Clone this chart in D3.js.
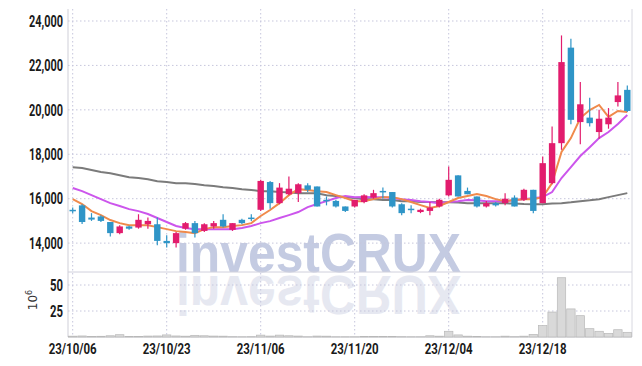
<!DOCTYPE html>
<html>
<head>
<meta charset="utf-8">
<script src="https://cdn.jsdelivr.net/npm/d3@7"></script>
<style>
  body { margin: 0; background: #fff; }
  #chart { width: 642px; height: 366px; }
  text { font-family: "Liberation Sans Narrow", "Roboto", "DejaVu Sans", sans-serif; }
</style>
</head>
<body>
<div id="chart"></div>
<script>
// trading days shown on the chart
const dates = [
  "23/10/06","23/10/10","23/10/11","23/10/12","23/10/13","23/10/16","23/10/17","23/10/18","23/10/19","23/10/20",
  "23/10/23","23/10/24","23/10/25","23/10/26","23/10/27","23/10/30","23/10/31","23/11/01","23/11/02","23/11/03",
  "23/11/06","23/11/07","23/11/08","23/11/09","23/11/10","23/11/13","23/11/14","23/11/15","23/11/16","23/11/17",
  "23/11/20","23/11/21","23/11/22","23/11/23","23/11/24","23/11/27","23/11/28","23/11/29","23/11/30","23/12/01",
  "23/12/04","23/12/05","23/12/06","23/12/07","23/12/08","23/12/11","23/12/12","23/12/13","23/12/14","23/12/15",
  "23/12/18","23/12/19","23/12/20","23/12/21","23/12/22","23/12/26","23/12/27","23/12/28","24/01/02","24/01/03"
];

const open = [
  15500,15700,15150,15200,14950,14450,14750,14700,14850,14850,
  14100,14000,14650,14900,14550,14750,15050,14600,15050,15150,
  15500,16750,15800,16200,16250,16600,16550,15950,15900,15650,
  15650,15850,16050,16350,16300,15750,15550,15400,15450,15650,
  16150,17050,16350,16100,15650,15800,15800,16050,15950,16400,
  15800,16700,18500,22800,19450,19650,19000,19350,20350,20900
];
const high = [
  15600,15750,15350,15250,14950,14800,14780,15300,15150,15150,
  14350,14500,14950,15000,14900,15000,15300,14900,15100,15300,
  16850,16800,16700,17000,16700,16700,16550,16100,15950,15650,
  15950,16200,16400,16500,16300,15800,15700,15550,15850,16000,
  17450,17050,16500,16100,15900,15850,16250,16150,16450,16400,
  17900,19250,23350,23200,21250,20550,20000,20080,21250,21100
];
const low = [
  15350,14860,15000,14950,14300,14400,14600,14650,14650,13900,
  13800,13800,14600,14250,14500,14650,14700,14550,14850,15000,
  15450,15550,15750,16150,15850,16300,15650,15700,15600,15400,
  15600,15800,16000,16000,15600,15250,15350,15350,15250,15600,
  16100,16100,16200,15600,15600,15650,15700,15650,15900,15350,
  15800,16650,18200,19350,18450,19250,18700,19150,20150,19900
];
const close = [
  15450,14950,15060,15000,14450,14750,14650,15050,15000,14100,
  14000,14450,14900,14450,14850,14900,14750,14900,14900,15100,
  16800,15800,16500,16450,16650,16400,15650,15900,15650,15450,
  15950,16150,16250,16300,15650,15350,15500,15500,15600,15950,
  16850,16100,16200,15650,15800,15700,16000,15650,16400,15450,
  17600,18500,22150,19550,20250,19400,19600,19650,20650,19950
];

// moving averages
const maShort = [
  15980,15760,15440,15260,15040,14900,14810,14810,14800,14720,
  14630,14540,14500,14450,14630,14720,14720,14770,14810,14900,
  15220,15490,15800,16160,16430,16390,16340,16300,16160,16030,
  15890,15890,15980,16070,16070,15980,15850,15710,15580,15670,
  15850,16030,16120,16210,16120,15980,15890,15940,15980,15980,
  16070,16700,18100,18730,19630,19990,20220,19680,19950,19900
];
const maMid = [
  16480,16340,16160,15980,15800,15670,15530,15440,15310,15130,
  14950,14770,14680,14630,14630,14620,14620,14630,14680,14770,
  14900,14990,15130,15260,15400,15620,15760,15890,16030,16120,
  16070,16080,16070,16070,16030,15980,15940,15890,15850,15800,
  15850,15890,15940,15930,15890,15890,15880,15940,15980,16030,
  16070,16300,16930,17420,17920,18320,18730,19000,19360,19770
];
const maLong = [
  17420,17380,17290,17200,17150,17060,16970,16930,16880,16790,
  16750,16700,16690,16660,16610,16570,16520,16480,16430,16390,
  16340,16330,16300,16290,16250,16240,16240,16160,16120,16070,
  16030,15980,15980,15940,15940,15890,15890,15850,15850,15840,
  15840,15830,15800,15800,15790,15790,15790,15780,15760,15750,
  15750,15780,15800,15840,15890,15930,15980,16070,16160,16250
];

// volume, millions of shares
const volume = [
  0.8,1.0,0.6,0.7,1.2,2.2,0.6,0.4,0.9,1.0,
  2.0,1.0,0.8,1.6,1.2,0.9,0.8,0.3,0.2,0.3,
  1.8,0.9,1.8,1.2,0.9,0.2,0.9,0.8,0.2,0.2,
  0.2,0.5,0.6,0.5,0.5,0.3,0.2,0.2,1.2,0.8,
  5.5,2.0,0.8,0.6,0.2,0.2,0.8,0.3,0.8,2.5,
  11,24,57,27,20.5,8,5.5,3.5,7,4.5
];

const priceTicks = [14000, 16000, 18000, 20000, 22000, 24000];
const volTicks = [25, 50];
const dateTicks = ["23/10/06","23/10/23","23/11/06","23/11/20","23/12/04","23/12/18"];

const W = 642, H = 366;
const plotLeft = 68, plotRight = 632, plotTop = 9, split = 272, plotBottom = 337;

const svg = d3.select("#chart").append("svg")
  .attr("width", W).attr("height", H)
  .attr("viewBox", `0 0 ${W} ${H}`);

const x = d3.scaleBand().domain(dates).range([plotLeft, plotRight]).padding(0);
const cx = d => x(d) + x.bandwidth() / 2;
const y = d3.scaleLinear().domain([12700, 24540]).range([split, plotTop]);
const yv = d3.scaleLinear().domain([0, 62.5]).range([plotBottom, split]);

const gridColor = "#c6c6dc";

// watermark, with its faded mirror image
const wm = svg.append("g");
wm.append("text")
  .attr("x", 176).attr("y", 272)
  .attr("textLength", 285).attr("lengthAdjust", "spacingAndGlyphs")
  .attr("fill", "#c4cbe2")
  .style("font-family", "Liberation Sans, Arial, sans-serif")
  .style("font-weight", "bold").style("font-size", "55px")
  .text("investCRUX");
wm.append("text")
  .attr("transform", "translate(0,548) scale(1,-1)")
  .attr("x", 176).attr("y", 272)
  .attr("textLength", 285).attr("lengthAdjust", "spacingAndGlyphs")
  .attr("fill", "#e6e8f1")
  .style("font-family", "Liberation Sans, Arial, sans-serif")
  .style("font-weight", "bold").style("font-size", "55px")
  .text("investCRUX");

// grid
svg.append("g").selectAll("line")
  .data(priceTicks).join("line")
  .attr("x1", plotLeft).attr("x2", plotRight)
  .attr("y1", d => y(d)).attr("y2", d => y(d))
  .attr("stroke", gridColor).attr("stroke-dasharray", "1.5,2.5");
svg.append("g").selectAll("line")
  .data(volTicks).join("line")
  .attr("x1", plotLeft).attr("x2", plotRight)
  .attr("y1", d => yv(d)).attr("y2", d => yv(d))
  .attr("stroke", gridColor).attr("stroke-dasharray", "1.5,2.5");
svg.append("g").selectAll("line")
  .data(dateTicks).join("line")
  .attr("x1", d => cx(d)).attr("x2", d => cx(d))
  .attr("y1", plotTop).attr("y2", plotBottom)
  .attr("stroke", gridColor).attr("stroke-dasharray", "1.5,2.5");

// frame
svg.append("line").attr("x1", plotLeft).attr("x2", plotLeft).attr("y1", plotTop).attr("y2", plotBottom)
  .attr("stroke", "#cfcfd8");
svg.append("line").attr("x1", plotRight).attr("x2", plotRight).attr("y1", plotTop).attr("y2", plotBottom)
  .attr("stroke", "#d8d8e0");
svg.append("line").attr("x1", plotLeft).attr("x2", plotRight).attr("y1", split).attr("y2", split)
  .attr("stroke", "#d0d0dc");
svg.append("line").attr("x1", plotLeft).attr("x2", plotRight).attr("y1", plotBottom).attr("y2", plotBottom)
  .attr("stroke", "#c8c8d0");

// volume bars
svg.append("g").selectAll("rect")
  .data(dates).join("rect")
  .attr("x", d => x(d) + 0.5)
  .attr("width", x.bandwidth() - 1)
  .attr("y", (d, i) => yv(volume[i]))
  .attr("height", (d, i) => yv(0) - yv(volume[i]))
  .attr("fill", "#d9d9d9").attr("stroke", "#b8b8b8").attr("stroke-width", 0.7);

// moving averages
const line = arr => d3.line().x((d, i) => cx(dates[i])).y(d => y(d))(arr);
svg.append("path").attr("d", line(maLong)).attr("fill", "none")
  .attr("stroke", "#7b7b7b").attr("stroke-width", 2);
svg.append("path").attr("d", line(maMid)).attr("fill", "none")
  .attr("stroke", "#cc55ec").attr("stroke-width", 2);
svg.append("path").attr("d", line(maShort)).attr("fill", "none")
  .attr("stroke", "#f08a4b").attr("stroke-width", 2);

// candles
const upColor = "#e21c6d", downColor = "#2f95c7";
const candle = svg.append("g").selectAll("g")
  .data(dates).join("g")
  .attr("stroke", (d, i) => close[i] >= open[i] ? upColor : downColor)
  .attr("fill", (d, i) => close[i] >= open[i] ? upColor : downColor);
candle.append("line")
  .attr("x1", d => cx(d)).attr("x2", d => cx(d))
  .attr("y1", (d, i) => y(high[i])).attr("y2", (d, i) => y(low[i]))
  .attr("stroke-width", 1.2);
candle.append("rect")
  .attr("x", d => cx(d) - 3.2)
  .attr("width", 6.4)
  .attr("y", (d, i) => y(Math.max(open[i], close[i])))
  .attr("height", (d, i) => Math.max(1.5, Math.abs(y(open[i]) - y(close[i]))))
  .attr("stroke", "none");

// axis labels (narrow face, squeezed to the reference widths)
svg.append("g").selectAll("text")
  .data(priceTicks).join("text")
  .attr("x", 63).attr("y", d => y(d)).attr("dy", "0.36em")
  .attr("text-anchor", "end")
  .attr("textLength", 34).attr("lengthAdjust", "spacingAndGlyphs")
  .attr("fill", "#1a1a1a").style("font-size", "16px").style("font-weight", "bold")
  .text(d => d3.format(",")(d));
svg.append("g").selectAll("text")
  .data(volTicks).join("text")
  .attr("x", 63).attr("y", d => yv(d)).attr("dy", "0.36em")
  .attr("text-anchor", "end")
  .attr("textLength", 13).attr("lengthAdjust", "spacingAndGlyphs")
  .attr("fill", "#1a1a1a").style("font-size", "16px").style("font-weight", "bold")
  .text(d => d);
svg.append("text")
  .attr("transform", "translate(37,300) rotate(-90)")
  .attr("text-anchor", "middle")
  .attr("fill", "#333").style("font-size", "12px")
  .style("font-family", "DejaVu Sans, sans-serif")
  .html('10<tspan dy="-5" font-size="8">6</tspan>');
svg.append("g").selectAll("text")
  .data(dateTicks).join("text")
  .attr("x", d => cx(d)).attr("y", 354)
  .attr("text-anchor", "middle")
  .attr("textLength", 48).attr("lengthAdjust", "spacingAndGlyphs")
  .attr("fill", "#1a1a1a").style("font-size", "15px").style("font-weight", "bold")
  .text(d => d);
</script>
</body>
</html>
